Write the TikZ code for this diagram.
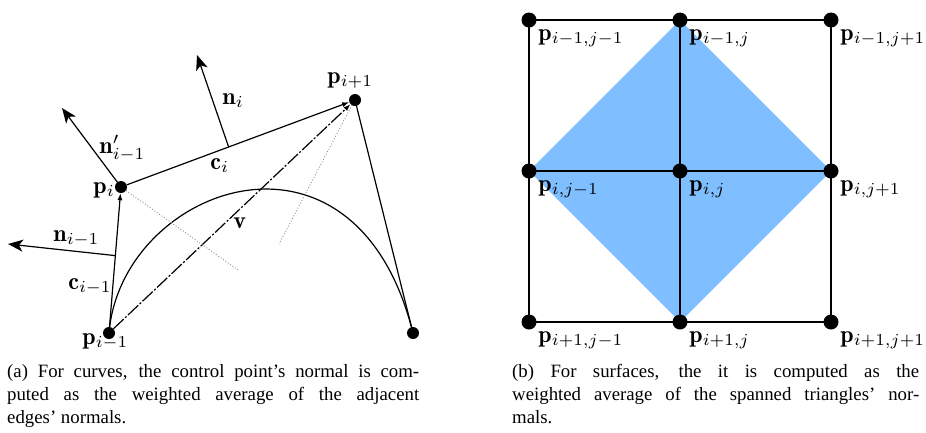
\documentclass[tikz,border=0pt]{standalone}
\usepackage{fontspec}
\newfontfamily\capfont{Liberation Serif}
\usetikzlibrary{arrows.meta,calc}
\definecolor{ink}{HTML}{000000}
\definecolor{muted}{HTML}{8C8C8C}
\definecolor{patch}{HTML}{80BFFF}
\newcommand{\capsize}{\fontsize{18.8}{23}\selectfont}
\tikzset{
  every picture/.style = {line join=round},
  edge/.style    = {line width=1.2pt, ink},
  normal/.style  = {line width=1.2pt, ink, -{Stealth[length=15pt,width=12pt,inset=4pt]}},
  tangent/.style = {line width=1.2pt, ink, -{Latex[length=7pt,width=5pt]}},
  guide/.style   = {line width=0.9pt, muted, dotted},
  mesh/.style    = {line width=1.6pt, ink},
  pt/.style      = {circle, fill=ink, inner sep=0pt, minimum size=12pt},
  gridpt/.style  = {circle, fill=ink, inner sep=0pt, minimum size=15pt},
  lbl/.style     = {scale=2.4, inner sep=0pt, anchor=base west},
  captext/.style = {font=\capfont\capsize, inner sep=0pt, align=justify, anchor=north west},
}

\begin{document}
\begin{tikzpicture}[x=1pt, y=-1pt]
  \useasboundingbox (0,0) rectangle (926,432);

  % (a) curve with its control polygon
  \node[pt] (pim) at (109,333) {};
  \node[pt] (pi)  at (121,187) {};
  \node[pt] (pip) at (355,100) {};
  \node[pt] (pe)  at (413,333) {};

  \draw[edge] (pim.center) .. controls (pi.center) and (pip.center) .. (pe.center);
  \draw[edge] (pip.center) -- (pe.center);
  \draw[tangent] (pim) -- (pi);
  \draw[tangent] (pi) -- (pip);
  \draw[tangent, dash pattern={on 14pt off 2pt on 2pt off 2pt}] (pim) -- (pip);

  % faint guides
  \coordinate (ga) at (238,270);
  \coordinate (gb) at (352,105);
  \coordinate (gc) at (279,244);
  \draw[guide] (pi) -- (ga);
  \draw[guide] (gb) -- (gc);

  % edge normals and the averaged one
  \coordinate (fa) at ($(pim)!0.53!(pi)$);
  \coordinate (fb) at ($(pi)!0.46!(pip)$);
  \coordinate (na) at (8,244);
  \coordinate (nb) at (197,55);
  \coordinate (nc) at (62,108);
  \draw[normal] (fa) -- (na);
  \draw[normal] (fb) -- (nb);
  \draw[normal] (pi.center) -- (nc);

  \node[lbl] (lpip) at (327,83)  {$\mathbf{p}_{i+1}$};
  \node[lbl] (lni)  at (222,104) {$\mathbf{n}_{i}$};
  \node[lbl] (lnp)  at (99,153)  {$\mathbf{n}'_{i-1}$};
  \node[lbl] (lci)  at (210,169) {$\mathbf{c}_{i}$};
  \node[lbl] (lpi)  at (93,193)  {$\mathbf{p}_{i}$};
  \node[lbl] (lv)   at (233,228) {$\mathbf{v}$};
  \node[lbl] (lnim) at (53,241)  {$\mathbf{n}_{i-1}$};
  \node[lbl] (lcim) at (68,289)  {$\mathbf{c}_{i-1}$};
  \node[lbl] (lpim) at (82,344)  {$\mathbf{p}_{i-1}$};

  % (b) grid of control points
  \foreach \r/\ry in {0/20,1/171,2/322}
    \foreach \c/\cx in {0/529,1/680,2/831}
      \coordinate (g\r\c) at (\cx,\ry);

  \fill[patch] (g01) -- (g12) -- (g21) -- (g10) -- cycle;
  \draw[mesh] (g00) rectangle (g22);
  \draw[mesh] (g01) -- (g21);
  \draw[mesh] (g10) -- (g12);

  \foreach \r/\ri in {0/{i-1},1/i,2/{i+1}}
    \foreach \c/\cj in {0/{j-1},1/j,2/{j+1}} {
      \node[gridpt] (d\r\c) at (g\r\c) {};
      \node[lbl, anchor=north west] (l\r\c) at ($(g\r\c)+(9,9)$) {$\mathbf{p}_{\ri,\cj}$};
    }

  % captions
  \node[captext, text width=412pt] (capa) at (7,364)
    {(a) For curves, the control point’s normal is com-\linebreak
     puted as the weighted average of the adjacent\linebreak
     edges’ normals.};
  \node[captext, text width=407pt] (capb) at (512,364)
    {(b) For surfaces, the it is computed as the\linebreak
     weighted average of the spanned triangles’ nor-\linebreak
     mals.};
\end{tikzpicture}
\end{document}
